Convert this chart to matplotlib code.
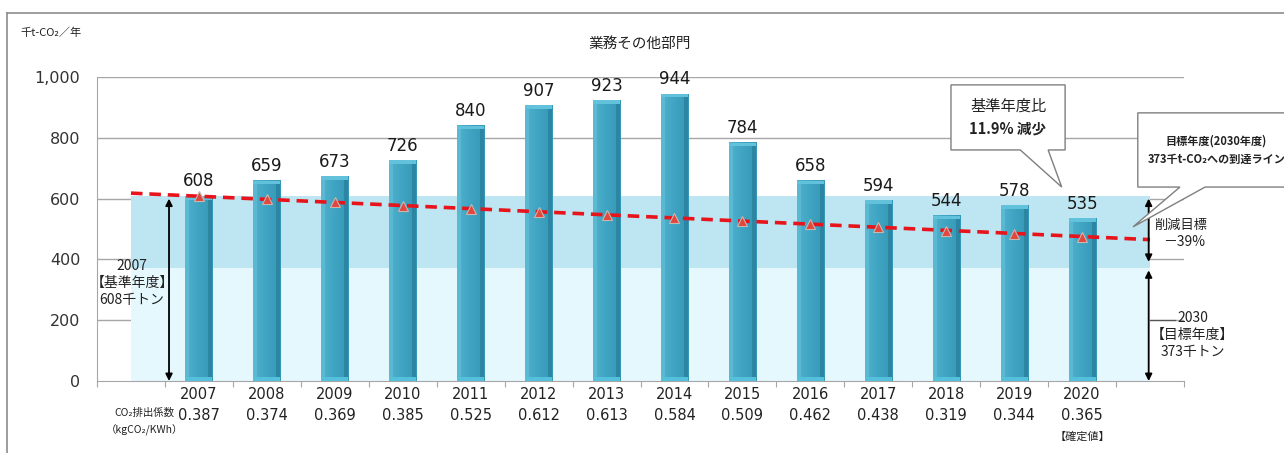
"""
業務その他部門 CO2 emissions bar chart (recreated).
"""

import numpy as np
import matplotlib
matplotlib.use("Agg")
import matplotlib.pyplot as plt
from matplotlib.patches import Polygon
from matplotlib.lines import Line2D
from matplotlib.colors import LinearSegmentedColormap

plt.rcParams['font.family'] = ['Noto Sans CJK JP', 'DejaVu Sans']

# ---- data ----
years = ['2007', '2008', '2009', '2010', '2011', '2012', '2013',
         '2014', '2015', '2016', '2017', '2018', '2019', '2020']
emissions = [608, 659, 673, 726, 840, 907, 923, 944, 784, 658, 594, 544, 578, 535]
factors = ['0.387', '0.374', '0.369', '0.385', '0.525', '0.612', '0.613',
           '0.584', '0.509', '0.462', '0.438', '0.319', '0.344', '0.365']
# target line (2007 -> 2030) values at each year
target_line = [608, 598, 588, 577, 567, 557, 547, 536, 526, 516, 506, 495, 485, 475]
line_ends_x = [-1, 14]
line_ends_y = [618, 465]
base_value = 608
goal_value = 373
yticks = [0, 200, 400, 600, 800, 1000]

x = np.arange(len(years))
vals = np.array(emissions)

fig = plt.figure(figsize=(12.84, 4.53), dpi=100)
ax = fig.add_axes([97 / 1284, 1 - 381 / 453, (1184 - 97) / 1284, 304 / 453])

# grid
for v in yticks[1:]:
    ax.axhline(v, color='#a6a6a6', lw=1.0, zorder=0)

# background bands
ax.fill_between(line_ends_x, 0, goal_value, color='#e4f8fd', lw=0, zorder=1)
ax.fill_between(line_ends_x, goal_value, base_value, color='#bde6f2', lw=0, zorder=1)

# bars: gradient face + bevel edges
w = 0.4
bev = 0.06
face_cmap = LinearSegmentedColormap.from_list('face', ['#4fb2ce', '#3fa3c2', '#3597b6'])
grad = np.linspace(0, 1, 64).reshape(1, -1)
bars = ax.bar(x, vals, width=w, color='#3fa3c2', zorder=3)
for b in bars:
    x0, h = b.get_x(), b.get_height()
    ax.imshow(grad, extent=(x0, x0 + w, 0, h), aspect='auto', cmap=face_cmap,
              zorder=3.05, interpolation='bicubic')
ax.bar(x - w / 2 + bev / 2, vals, width=bev, color='#5ab8d2', zorder=3.1)
ax.bar(x + w / 2 - bev / 2, vals, width=bev, color='#2c86a3', zorder=3.1)
ax.bar(x, np.full(len(x), 11), bottom=vals - 11, width=w, color='#62c2db', zorder=3.2)
ax.bar(x, np.full(len(x), 13), bottom=0, width=w, color='#55c0dc', zorder=3.2)

ax.set_xlim(-1.5, 14.5)
ax.set_ylim(0, 1000)

for xi, v in zip(x, emissions):
    ax.annotate(str(v), (xi, v), xytext=(0, 7), textcoords='offset points',
                ha='center', va='baseline', fontsize=12, color='#1a1a1a',
                family='DejaVu Sans', zorder=5)

# target trajectory
ax.plot(line_ends_x, line_ends_y, color='#e8141b', lw=2.6, dashes=(3.2, 1.9), zorder=4)
ax.plot(x, target_line, ls='none', marker='^', ms=6.5, mfc='#e2463c',
        mec='#c9b8b0', mew=0.8, zorder=4.5)

# axes styling
for s in ['top', 'right']:
    ax.spines[s].set_visible(False)
ax.spines['left'].set_color('#a6a6a6')
ax.spines['bottom'].set_color('#a6a6a6')
ax.set_yticks(yticks)
ax.set_yticklabels(['0', '200', '400', '600', '800', '1,000'], family='DejaVu Sans')
ax.tick_params(axis='y', length=0, pad=12, labelsize=11.5, labelcolor='#333333')
ax.set_xticks(np.arange(-1.5, 15, 1))
ax.set_xticklabels([])
ax.tick_params(axis='x', length=4, color='#a6a6a6', direction='out')

# category labels below axis
tr = ax.get_xaxis_transform()
for xi, yr, f in zip(x, years, factors):
    ax.text(xi, -0.046, yr, transform=tr, ha='center', va='center', fontsize=10.5,
            color='#222222', family='DejaVu Sans')
    ax.text(xi, -0.115, f, transform=tr, ha='center', va='center', fontsize=10.5,
            color='#222222', family='DejaVu Sans')
ax.text(x[-1], -0.184, '【確定値】', transform=tr, ha='center', va='center', fontsize=8,
        color='#222222')
ax.text(-0.8, -0.103, 'CO₂排出係数', transform=tr, ha='center', va='center', fontsize=7.5,
        color='#222222')
ax.text(-0.8, -0.162, '（kgCO₂/KWh）', transform=tr, ha='center', va='center', fontsize=7.5,
        color='#222222')

# double arrows
arw = dict(arrowstyle='<|-|>', color='black', lw=1.3, mutation_scale=10, shrinkA=0, shrinkB=0)
ax.annotate('', xy=(-0.44, 0), xytext=(-0.44, 600), arrowprops=arw, zorder=6)
ax.annotate('', xy=(13.98, 392), xytext=(13.98, 600), arrowprops=arw, zorder=6,
            annotation_clip=False)
ax.annotate('', xy=(13.98, 0), xytext=(13.98, 364), arrowprops=arw, zorder=6,
            annotation_clip=False)
ax.plot([13.98, 14.37], [200, 200], color='#555555', lw=0.9, clip_on=False, zorder=6)

ax.text(-0.985, 322, '2007\n【基準年度】\n608千トン', ha='center', va='center',
        fontsize=10, linespacing=1.25, color='#222222', zorder=6)
ax.text(14.63, 152, '2030\n【目標年度】\n373千トン', ha='center', va='center',
        fontsize=10, linespacing=1.25, color='#222222', zorder=6, clip_on=False)
ax.text(14.45, 513, '削減目標', ha='center', va='center', fontsize=9.5, color='#222222',
        clip_on=False, zorder=6)
ax.text(14.5, 457, '－39%', ha='center', va='center', fontsize=10, color='#222222',
        clip_on=False, zorder=6)

# callouts
call1 = [(11.07, 974), (12.75, 974), (12.75, 760), (12.50, 760), (12.70, 638),
         (12.09, 760), (11.07, 760)]
ax.add_patch(Polygon(call1, closed=True, fc='white', ec='#7f7f7f', lw=1.0,
                     zorder=7, clip_on=False))
ax.text(11.91, 905, '基準年度比', ha='center', va='center', fontsize=11,
        color='#222222', zorder=8)
ax.text(11.91, 830, '11.9% 減少', ha='center', va='center', fontsize=10.5,
        color='#222222', fontweight='bold', zorder=8)

call2 = [(13.82, 882), (16.3, 882), (16.3, 638), (14.81, 638), (13.75, 507),
         (14.44, 638), (13.82, 638)]
ax.add_patch(Polygon(call2, closed=True, fc='white', ec='#7f7f7f', lw=1.0,
                     zorder=7, clip_on=False))
ax.text(14.98, 788, '目標年度(2030年度)', ha='center', va='center', fontsize=8,
        color='#222222', fontweight='bold', zorder=8, clip_on=False)
ax.text(14.98, 728, '373千t-CO₂への到達ライン', ha='center', va='center', fontsize=8,
        color='#222222', fontweight='bold', zorder=8, clip_on=False)

# titles / unit
fig.text(640 / 1284, 1 - 44 / 453, '業務その他部門', ha='center', va='center',
         fontsize=10.5, color='#222222')
fig.text(20 / 1284, 1 - 33 / 453, '千t-CO₂／年', ha='left', va='center',
         fontsize=8, color='#222222')

# outer frame (only top and left edges are inside the picture)
fig.add_artist(Line2D([7 / 1284, 1.0], [1 - 13 / 453, 1 - 13 / 453],
                      transform=fig.transFigure, color='#8c8c8c', lw=1.2))
fig.add_artist(Line2D([7 / 1284, 7 / 1284], [0, 1 - 13 / 453],
                      transform=fig.transFigure, color='#8c8c8c', lw=1.2))

fig.savefig('out.png', dpi=100)
